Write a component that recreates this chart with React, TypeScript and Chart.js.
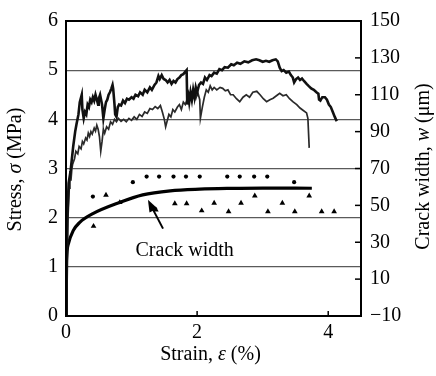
import React, { useEffect, useRef } from "react";
import { Chart, registerables } from "chart.js";

Chart.register(...registerables);

// ---------- data ----------
const xTicks = [0, 2, 4];
const stressTicks = [0, 1, 2, 3, 4, 5, 6];
const widthTicks = [-10, 10, 30, 50, 70, 90, 110, 130, 150];

// thick stress–strain curve (strain %, stress MPa)
const stressCurveA: [number, number][] = [
  [0, 0], [0.01, 1.0], [0.02, 2.0], [0.04, 2.7], [0.07, 2.95], [0.09, 3.2], [0.11, 3.45],
  [0.14, 3.75], [0.16, 3.9], [0.19, 4.1], [0.21, 4.35], [0.24, 4.5], [0.25, 4.2], [0.27, 4.02],
  [0.29, 4.15], [0.31, 4.1], [0.33, 4.3], [0.35, 4.25], [0.37, 4.4], [0.39, 4.35], [0.41, 4.45],
  [0.43, 4.38], [0.45, 4.5], [0.47, 4.4], [0.49, 4.3], [0.5, 4.42], [0.52, 4.5], [0.55, 4.3],
  [0.57, 4.02], [0.59, 4.2], [0.61, 4.35], [0.63, 4.4], [0.65, 4.5], [0.67, 4.55], [0.69, 4.62],
  [0.71, 4.7], [0.72, 4.62], [0.74, 4.3], [0.75, 4.1], [0.77, 4.05], [0.79, 4.25], [0.81, 4.3],
  [0.84, 4.28], [0.87, 4.38], [0.9, 4.33], [0.93, 4.42], [0.96, 4.4], [1.0, 4.45], [1.03, 4.42],
  [1.06, 4.5], [1.1, 4.47], [1.13, 4.55], [1.17, 4.5], [1.2, 4.6], [1.24, 4.55], [1.28, 4.65],
  [1.31, 4.6], [1.35, 4.7], [1.38, 4.75], [1.41, 4.88], [1.43, 4.82], [1.46, 4.9], [1.49, 4.82],
  [1.52, 4.8], [1.55, 4.75], [1.58, 4.8], [1.61, 4.72], [1.64, 4.78], [1.67, 4.75], [1.7, 4.82],
  [1.73, 4.85], [1.76, 4.9], [1.79, 4.92], [1.82, 4.97], [1.84, 5.0], [1.85, 4.3], [1.87, 4.45],
  [1.88, 4.35], [1.9, 4.55], [1.92, 4.4], [1.94, 4.6], [1.96, 4.45], [1.98, 4.65], [2.0, 4.55],
  [2.03, 4.7], [2.06, 4.75], [2.09, 4.72], [2.12, 4.85], [2.15, 4.8], [2.19, 4.9], [2.22, 4.88],
  [2.26, 4.95], [2.3, 4.93], [2.34, 5.02], [2.38, 5.0], [2.42, 5.06], [2.47, 5.05], [2.52, 5.12],
  [2.56, 5.1], [2.61, 5.15], [2.66, 5.13], [2.72, 5.18], [2.78, 5.16], [2.84, 5.2], [2.9, 5.22],
  [2.95, 5.2], [3.0, 5.17], [3.05, 5.19], [3.1, 5.17], [3.15, 5.2], [3.2, 5.22], [3.23, 5.18],
  [3.26, 5.05], [3.29, 4.98], [3.32, 5.0], [3.36, 4.95], [3.4, 4.97], [3.43, 4.9], [3.46, 4.85],
  [3.48, 4.75], [3.51, 4.82], [3.54, 4.85], [3.57, 4.8], [3.6, 4.83], [3.63, 4.78], [3.67, 4.72],
  [3.7, 4.68], [3.74, 4.63], [3.78, 4.6], [3.82, 4.55], [3.85, 4.52], [3.86, 4.4], [3.88, 4.38],
  [3.91, 4.45], [3.95, 4.45], [3.98, 4.4], [4.01, 4.3], [4.04, 4.25], [4.07, 4.15], [4.1, 4.05],
  [4.13, 3.96],
];

// thinner stress–strain curve
const stressCurveB: [number, number][] = [
  [0, 0], [0.015, 1.0], [0.03, 2.0], [0.05, 2.6], [0.06, 2.95], [0.075, 2.75], [0.09, 3.0],
  [0.1, 3.08], [0.13, 3.2], [0.15, 3.35], [0.18, 3.3], [0.2, 3.45], [0.23, 3.4], [0.25, 3.55],
  [0.27, 3.5], [0.3, 3.62], [0.32, 3.58], [0.34, 3.72], [0.36, 3.65], [0.38, 3.75], [0.4, 3.7],
  [0.43, 3.82], [0.45, 3.76], [0.47, 3.88], [0.49, 3.8], [0.51, 3.65], [0.53, 3.35], [0.55, 3.55],
  [0.57, 3.8], [0.59, 3.72], [0.62, 3.85], [0.65, 3.8], [0.68, 3.95], [0.71, 3.9], [0.74, 4.0],
  [0.77, 3.95], [0.8, 4.02], [0.84, 3.96], [0.88, 4.0], [0.92, 3.95], [0.96, 4.02], [1.0, 3.98],
  [1.04, 4.05], [1.08, 4.0], [1.12, 4.1], [1.16, 4.06], [1.2, 4.15], [1.24, 4.12], [1.28, 4.22],
  [1.32, 4.2], [1.36, 4.26], [1.4, 4.22], [1.44, 4.28], [1.47, 4.15], [1.5, 4.0], [1.52, 3.85],
  [1.54, 3.95], [1.57, 4.1], [1.6, 4.05], [1.63, 4.2], [1.66, 4.15], [1.7, 4.25], [1.73, 4.3],
  [1.76, 4.2], [1.79, 4.35], [1.82, 4.3], [1.86, 4.45], [1.89, 4.5], [1.92, 4.38], [1.95, 4.55],
  [1.98, 4.42], [2.01, 4.55], [2.04, 4.4], [2.05, 4.02], [2.08, 4.25], [2.11, 4.45], [2.14, 4.6],
  [2.17, 4.55], [2.2, 4.68], [2.23, 4.6], [2.26, 4.65], [2.3, 4.6], [2.35, 4.65], [2.39, 4.63],
  [2.43, 4.58], [2.47, 4.6], [2.51, 4.5], [2.55, 4.5], [2.6, 4.42], [2.65, 4.36], [2.7, 4.45],
  [2.75, 4.5], [2.8, 4.45], [2.85, 4.55], [2.91, 4.57], [2.96, 4.5], [3.01, 4.42], [3.06, 4.36],
  [3.11, 4.4], [3.16, 4.43], [3.21, 4.48], [3.26, 4.53], [3.31, 4.48], [3.36, 4.5], [3.41, 4.42],
  [3.46, 4.36], [3.52, 4.3], [3.57, 4.23], [3.62, 4.18], [3.67, 4.13], [3.69, 4.02], [3.71, 3.42],
];

// crack width curve (strain %, width µm)
const crackCurve: [number, number][] = [
  [0, -10], [0.01, 20], [0.035, 29], [0.11, 36.3], [0.21, 40.8], [0.41, 45.5],
  [0.82, 51.6], [1.17, 55.7], [1.59, 57.9], [2.04, 58.8], [2.5, 59.2], [3.0, 59.4],
  [3.75, 59.3],
];

// dot markers (strain %, width µm)
const dotMarks: [number, number][] = [
  [0.41, 54.8], [1.02, 62.6], [1.23, 65.6], [1.42, 65.6], [1.64, 65.6], [1.83, 65.6],
  [2.04, 65.6], [2.46, 65.6], [2.65, 65.6], [2.87, 65.6], [3.07, 65.6], [3.48, 62.6],
];

// triangle markers (strain %, width µm)
const triangleMarks: [number, number][] = [
  [0.42, 38.7], [0.61, 55.6], [0.82, 51.6], [1.37, 47.6], [1.66, 51], [1.84, 51],
  [2.07, 47.1], [2.26, 51.3], [2.48, 46.6], [2.67, 51.3], [2.88, 55.2], [3.08, 46.6],
  [3.3, 51.3], [3.49, 46.6], [3.71, 55.2], [3.9, 46.6], [4.09, 46.6],
];

// annotation: label position and arrow (strain %, width µm)
const crackLabel = { text: "Crack width", x: 1.81, y: 25.6 };
const crackArrow = { fromX: 1.48, fromY: 37.4, toX: 1.25, toY: 53 };

const SERIF = '"Liberation Serif", "Times New Roman", Times, serif';

type Seg = [string, boolean];

function drawSegments(ctx: CanvasRenderingContext2D, segs: Seg[], cx: number, cy: number, rot: number, size: number) {
  ctx.save();
  ctx.translate(cx, cy);
  ctx.rotate(rot);
  ctx.fillStyle = "#000";
  ctx.textBaseline = "middle";
  ctx.textAlign = "left";
  const widths = segs.map(([t, it]) => {
    ctx.font = `${it ? "italic " : ""}${size}px ${SERIF}`;
    return ctx.measureText(t).width;
  });
  const total = widths.reduce((a, b) => a + b, 0);
  let x = -total / 2;
  segs.forEach(([t, it], i) => {
    ctx.font = `${it ? "italic " : ""}${size}px ${SERIF}`;
    ctx.fillText(t, x, 0);
    x += widths[i];
  });
  ctx.restore();
}

export default function App() {
  const ref = useRef<HTMLCanvasElement>(null);

  useEffect(() => {
    const canvas = ref.current;
    if (!canvas) return;
    const toXY = (arr: [number, number][]) => arr.map(([x, y]) => ({ x, y }));

    const decorPlugin = {
      id: "decor",
      afterDatasetsDraw(chart: any) {
        const { ctx, chartArea: a, scales } = chart;
        ctx.save();
        ctx.strokeStyle = "#000";
        ctx.lineWidth = 1.5;
        xTicks.forEach((v) => {
          const px = scales.x.getPixelForValue(v);
          ctx.beginPath();
          ctx.moveTo(px, a.bottom);
          ctx.lineTo(px, a.bottom - 5);
          ctx.stroke();
        });
        widthTicks.forEach((v) => {
          const py = scales.y2.getPixelForValue(v);
          ctx.beginPath();
          ctx.moveTo(a.right, py);
          ctx.lineTo(a.right - 6, py);
          ctx.stroke();
        });
        ctx.lineWidth = 2;
        ctx.strokeRect(a.left, a.top, a.right - a.left, a.bottom - a.top);

        // annotation arrow
        const x1 = scales.x.getPixelForValue(crackArrow.fromX);
        const y1 = scales.y2.getPixelForValue(crackArrow.fromY);
        const x2 = scales.x.getPixelForValue(crackArrow.toX);
        const y2 = scales.y2.getPixelForValue(crackArrow.toY);
        const ang = Math.atan2(y2 - y1, x2 - x1);
        const headLen = 12;
        const headW = 4.5;
        ctx.lineWidth = 2;
        ctx.beginPath();
        ctx.moveTo(x1, y1);
        ctx.lineTo(x2 - Math.cos(ang) * headLen * 0.8, y2 - Math.sin(ang) * headLen * 0.8);
        ctx.stroke();
        ctx.fillStyle = "#000";
        ctx.beginPath();
        ctx.moveTo(x2, y2);
        ctx.lineTo(x2 - Math.cos(ang) * headLen - Math.sin(ang) * headW, y2 - Math.sin(ang) * headLen + Math.cos(ang) * headW);
        ctx.lineTo(x2 - Math.cos(ang) * headLen + Math.sin(ang) * headW, y2 - Math.sin(ang) * headLen - Math.cos(ang) * headW);
        ctx.closePath();
        ctx.fill();

        // annotation label
        ctx.font = `20px ${SERIF}`;
        ctx.textAlign = "center";
        ctx.textBaseline = "middle";
        ctx.fillText(crackLabel.text, scales.x.getPixelForValue(crackLabel.x), scales.y2.getPixelForValue(crackLabel.y));
        ctx.restore();

        // axis titles
        const midY = (a.top + a.bottom) / 2;
        drawSegments(ctx, [["Stress, ", false], ["σ", true], [" (MPa)", false]], 16, midY + 1, -Math.PI / 2, 20);
        drawSegments(ctx, [["Crack width, ", false], ["w", true], [" (μm)", false]], chart.width - 12, midY - 2, -Math.PI / 2, 20);
        drawSegments(ctx, [["Strain, ", false], ["ε", true], [" (%)", false]], (a.left + a.right) / 2 - 3, chart.height - 21, 0, 20);
      },
    };

    const tickFont = { family: SERIF, size: 20 };

    const chart = new Chart(canvas, {
      type: "line",
      data: {
        datasets: [
          {
            data: toXY(stressCurveA),
            yAxisID: "y",
            borderColor: "#111",
            borderWidth: 2.6,
            pointRadius: 0,
            tension: 0,
          },
          {
            data: toXY(stressCurveB),
            yAxisID: "y",
            borderColor: "#2a2a2a",
            borderWidth: 1.7,
            pointRadius: 0,
            tension: 0,
          },
          {
            data: toXY(crackCurve),
            yAxisID: "y2",
            borderColor: "#000",
            borderWidth: 3.2,
            pointRadius: 0,
            cubicInterpolationMode: "monotone",
          },
          {
            type: "scatter",
            data: toXY(dotMarks),
            yAxisID: "y2",
            pointStyle: "circle",
            pointRadius: 2.1,
            backgroundColor: "#000",
            borderColor: "#000",
            borderWidth: 0,
          },
          {
            type: "scatter",
            data: toXY(triangleMarks),
            yAxisID: "y2",
            pointStyle: "triangle",
            pointRadius: 3.3,
            backgroundColor: "#000",
            borderColor: "#000",
            borderWidth: 0,
          },
        ] as any,
      },
      options: {
        responsive: false,
        animation: false,
        layout: { padding: { top: 19, left: 0, right: 0, bottom: 0 } },
        plugins: { legend: { display: false }, tooltip: { enabled: false } },
        scales: {
          x: {
            type: "linear",
            min: 0,
            max: 4.5,
            afterBuildTicks: (s: any) => {
              s.ticks = xTicks.map((v) => ({ value: v }));
            },
            afterFit: (s: any) => {
              s.height = 60;
            },
            grid: { display: false, drawTicks: false },
            border: { display: false },
            ticks: { font: tickFont, color: "#000", padding: 5, maxRotation: 0 },
          },
          y: {
            type: "linear",
            position: "left",
            min: 0,
            max: 6,
            afterBuildTicks: (s: any) => {
              s.ticks = stressTicks.map((v) => ({ value: v }));
            },
            afterFit: (s: any) => {
              s.width = 66;
            },
            grid: { color: "#5a5a5a", lineWidth: 1.2, drawTicks: false },
            border: { display: false },
            ticks: { font: tickFont, color: "#000", padding: 8 },
          },
          y2: {
            type: "linear",
            position: "right",
            min: -10,
            max: 150,
            afterBuildTicks: (s: any) => {
              s.ticks = widthTicks.map((v) => ({ value: v }));
            },
            afterFit: (s: any) => {
              s.width = 75;
            },
            grid: { display: false, drawTicks: false },
            border: { display: false },
            ticks: {
              font: tickFont,
              color: "#000",
              padding: 9,
              callback: (v: any) => (Number(v) < 0 ? "\u2212" + Math.abs(Number(v)) : String(v)),
            },
          },
        },
      } as any,
      plugins: [decorPlugin],
    });

    return () => chart.destroy();
  }, []);

  return (
    <div style={{ position: "fixed", left: 0, top: 0, width: 436, height: 376, background: "#fff" }}>
      <canvas ref={ref} width={436} height={376} style={{ display: "block", width: 436, height: 376 }} />
    </div>
  );
}
